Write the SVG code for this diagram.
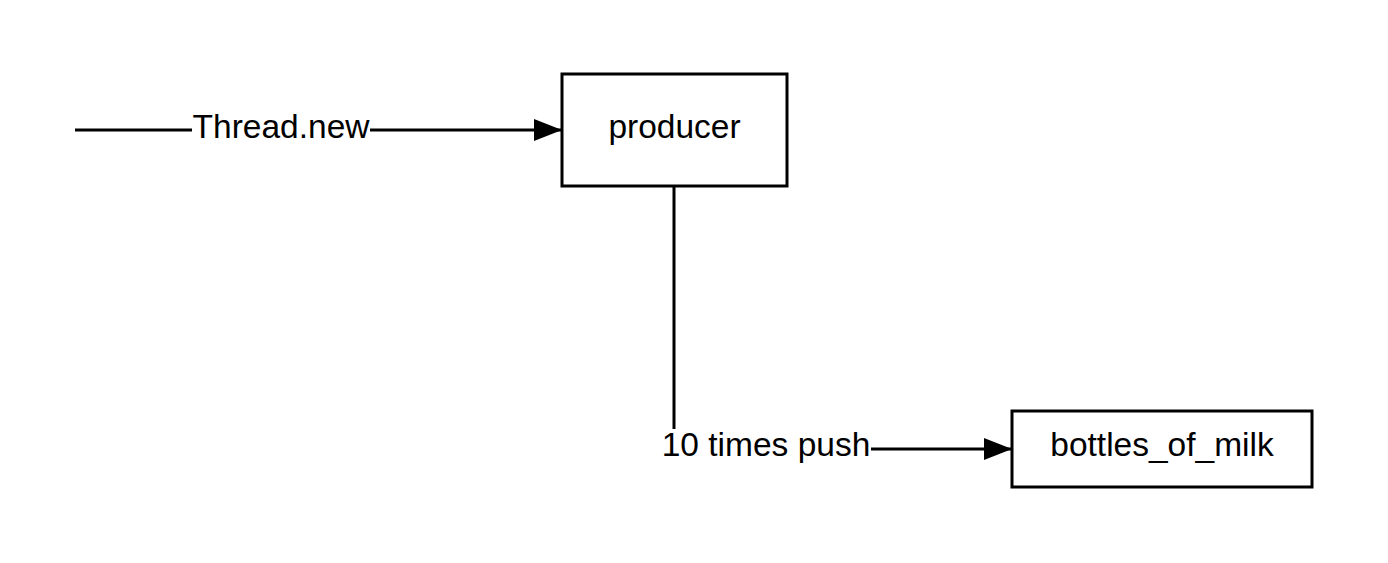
<svg xmlns="http://www.w3.org/2000/svg" width="1388" height="563" viewBox="0 0 1388 563">
<style>
.box{fill:#fff;stroke:#000;stroke-width:3}
.lbl{font-family:"Liberation Sans",Arial,sans-serif;font-size:33.5px;fill:#000}
.edge{fill:none;stroke:#000;stroke-width:3}
</style>
<defs>
<marker id="arr" markerUnits="userSpaceOnUse" markerWidth="30" markerHeight="24" refX="28" refY="11" orient="auto" viewBox="0 0 30 22">
<path d="M0,0 L28,11 L0,22 Z" fill="#000"/>
</marker>
</defs>
<g id="connectors">
<line class="edge" x1="75" y1="130" x2="192" y2="130"/>
<line class="edge" x1="370" y1="130" x2="562" y2="130" marker-end="url(#arr)"/>
<text class="lbl" x="281" y="138" text-anchor="middle">Thread.new</text>
<line class="edge" x1="674" y1="186" x2="674" y2="429"/>
<line class="edge" x1="871" y1="449" x2="1012" y2="449" marker-end="url(#arr)"/>
<text class="lbl" x="766" y="456" text-anchor="middle">10 times push</text>
</g>
<g id="producer">
<rect class="box" x="562" y="74" width="225" height="112"/>
<text class="lbl" x="674.5" y="138" text-anchor="middle">producer</text>
</g>
<g id="bottles_of_milk">
<rect class="box" x="1012" y="411" width="300" height="76"/>
<text class="lbl" x="1162" y="456" text-anchor="middle">bottles_of_milk</text>
</g>
</svg>
